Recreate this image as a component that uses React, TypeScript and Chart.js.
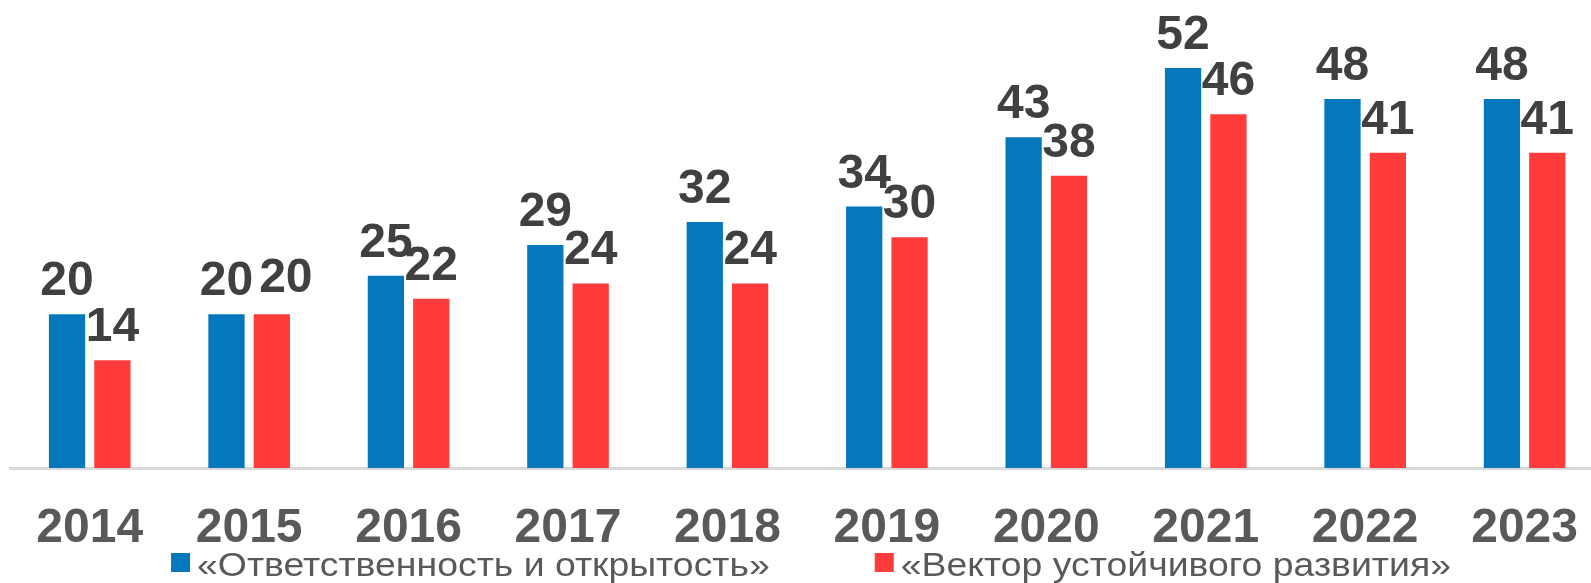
import React, { useEffect, useRef } from "react";
import { Chart, registerables } from "chart.js";

Chart.register(...registerables);

const categories = ["2014", "2015", "2016", "2017", "2018", "2019", "2020", "2021", "2022", "2023"];
const seriesOpen = [20, 20, 25, 29, 32, 34, 43, 52, 48, 48];
const seriesVector = [14, 20, 22, 24, 24, 30, 38, 46, 41, 41];
const seriesNames = ["«Ответственность и открытость»", "«Вектор устойчивого развития»"];
const seriesColors = ["#0577BD", "#FF3B3B"];

const FONT = '"Liberation Sans", Arial, sans-serif';

const valueLabels = {
  id: "valueLabels",
  afterDatasetsDraw(chart: any) {
    const ctx = chart.ctx;
    ctx.save();
    ctx.font = `bold 48px ${FONT}`;
    ctx.fillStyle = "#404040";
    ctx.textAlign = "center";
    ctx.textBaseline = "alphabetic";
    const metaA = chart.getDatasetMeta(0);
    const metaB = chart.getDatasetMeta(1);
    const textH = 35;
    const lift = 19;
    metaA.data.forEach((elA: any, i: number) => {
      const elB = metaB.data[i];
      const tA = String(chart.data.datasets[0].data[i]);
      const tB = String(chart.data.datasets[1].data[i]);
      const wA = ctx.measureText(tA).width;
      const wB = ctx.measureText(tB).width;
      const yA = elA.y - lift;
      let yB = elB.y - lift;
      let xB = elB.x;
      const vOverlap = textH - Math.abs(yA - yB);
      const rightA = elA.x + wA / 2;
      const leftB = xB - wB / 2;
      if (vOverlap > textH / 2 && leftB < rightA + 6) {
        xB += rightA + 6 - leftB;
        yB -= 3;
      }
      ctx.fillText(tA, elA.x, yA);
      ctx.fillText(tB, xB, yB);
    });
    ctx.restore();
  },
};

const bottomLegend = {
  id: "bottomLegend",
  afterDraw(chart: any) {
    const ctx = chart.ctx;
    ctx.save();
    ctx.font = `34px ${FONT}`;
    ctx.textBaseline = "alphabetic";
    ctx.textAlign = "left";
    const sx = 1.1;
    const box = 19;
    const textGap = 7;
    const itemGap = 105;
    const items = chart.data.datasets.map((ds: any) => ({
      label: ds.label,
      color: ds.backgroundColor,
      w: ctx.measureText(ds.label).width * sx,
    }));
    const total = items.reduce((s: number, it: any) => s + box + textGap + it.w, 0) + itemGap * (items.length - 1);
    let x = 811 - total / 2;
    const boxTop = 553;
    const baseline = 576;
    items.forEach((it: any) => {
      ctx.fillStyle = it.color;
      ctx.fillRect(x, boxTop, box, box);
      ctx.fillStyle = "#595959";
      ctx.save();
      ctx.translate(x + box + textGap, baseline);
      ctx.scale(sx, 1);
      ctx.fillText(it.label, 0, 0);
      ctx.restore();
      x += box + textGap + it.w + itemGap;
    });
    ctx.restore();
  },
};

export default function App() {
  const ref = useRef<HTMLCanvasElement | null>(null);

  useEffect(() => {
    document.body.style.margin = "0";
    const canvas = ref.current;
    if (!canvas) return;
    const chart = new Chart(canvas, {
      type: "bar",
      data: {
        labels: categories,
        datasets: [
          {
            label: seriesNames[0],
            data: seriesOpen,
            backgroundColor: seriesColors[0],
            categoryPercentage: 0.569,
            barPercentage: 0.8,
          },
          {
            label: seriesNames[1],
            data: seriesVector,
            backgroundColor: seriesColors[1],
            categoryPercentage: 0.569,
            barPercentage: 0.8,
          },
        ],
      },
      options: {
        animation: false,
        responsive: false,
        maintainAspectRatio: false,
        layout: { padding: { left: 10, right: 0, top: 6.6, bottom: 0 } },
        plugins: {
          legend: { display: false },
          tooltip: { enabled: false },
        },
        scales: {
          x: {
            grid: { display: false, drawTicks: false },
            border: { display: true, color: "#d9d9d9", width: 3 },
            ticks: {
              padding: 32,
              color: "#595959",
              font: { family: FONT, size: 48, weight: "bold" },
            },
            afterFit: (scale: any) => {
              scale.height = 583 - 468;
            },
          },
          y: {
            display: false,
            min: 0,
            max: 60,
          },
        },
      },
      plugins: [valueLabels, bottomLegend],
    });
    return () => chart.destroy();
  }, []);

  return (
    <div style={{ width: 1591, height: 583, overflow: "hidden", position: "relative", background: "#fff" }}>
      <canvas ref={ref} width={1610} height={583} style={{ width: 1610, height: 583, display: "block" }} />
    </div>
  );
}
